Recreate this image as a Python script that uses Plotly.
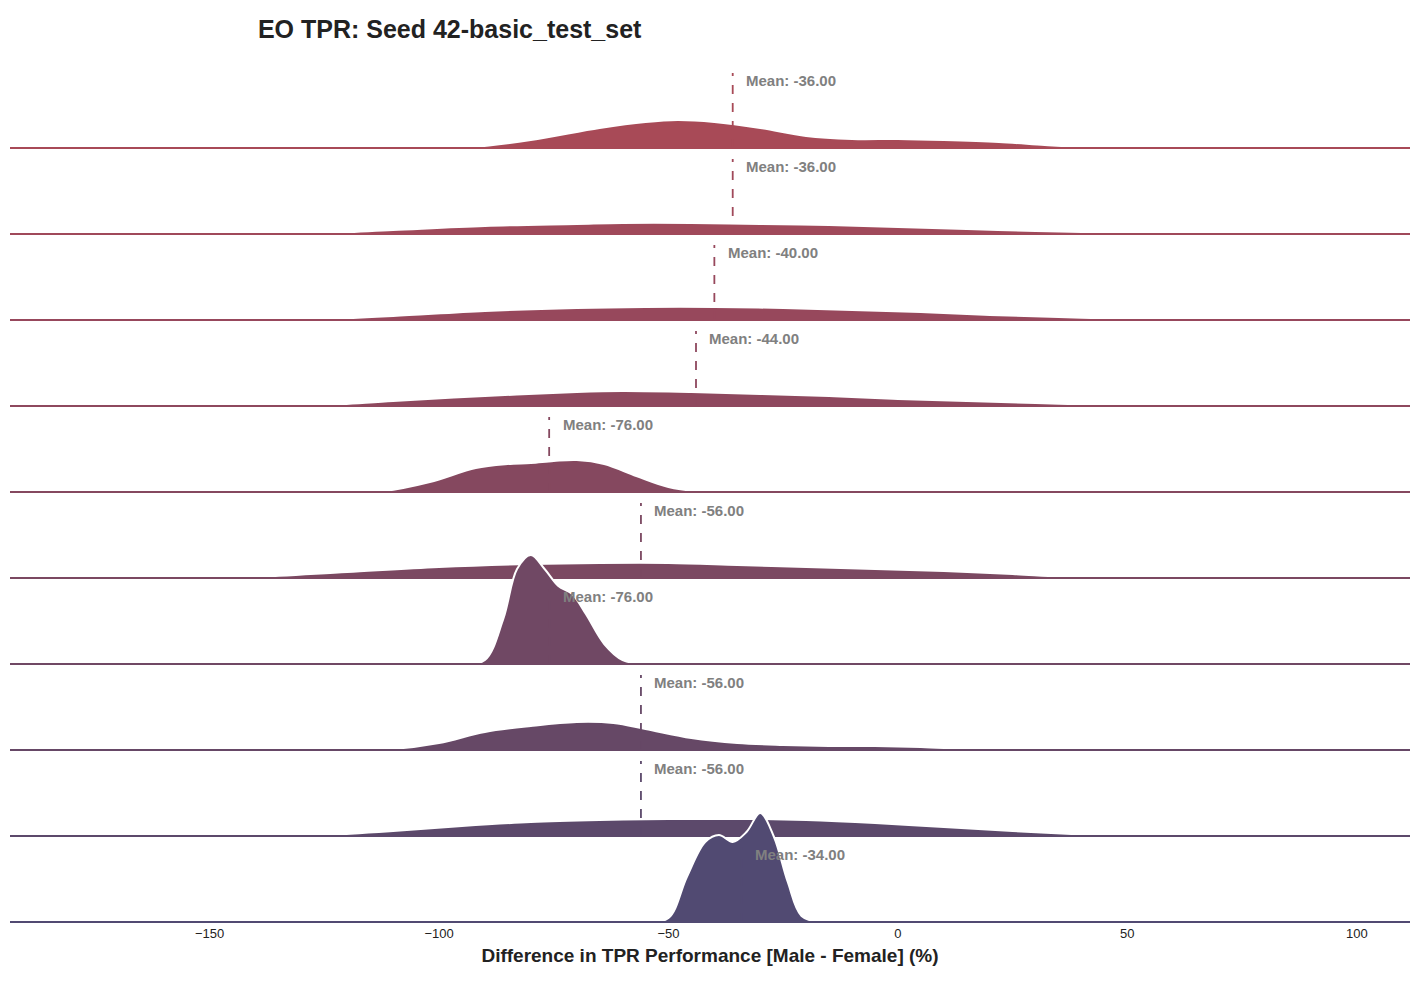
import plotly.graph_objects as go

# ridgeline rows, top to bottom
labels = ["pearrr_original", "abethe_original", "amicie_original", "ayoub_ghriss_original",
          "lbg_original", "mk_original", "nguigui_original", "Slasnista_original",
          "vzantedeschi_original", "wwwwmmmm_original"]
means = [-36, -36, -40, -44, -76, -56, -76, -56, -56, -34]
colors = ["#A84A57", "#A0495A", "#97485C", "#8E485E", "#85485F", "#7B4861", "#704864",
          "#664866", "#5C496B", "#514A72"]

# density heights (plot units) at x positions
xs = [
    [-100, -93, -80, -65, -55, -48, -40, -30, -20, -10, 0, 10, 22, 32, 40, 50],
    [-135, -125, -110, -90, -70, -60, -45, -30, -15, 0, 15, 30, 45, 55, 65],
    [-135, -125, -110, -90, -70, -55, -40, -25, -10, 5, 20, 35, 50, 60],
    [-135, -125, -110, -90, -70, -60, -45, -30, -15, 0, 15, 30, 45, 55],
    [-120, -112, -102, -92, -85, -80, -75, -70, -64, -57, -50, -44, -38],
    [-150, -140, -120, -100, -80, -65, -50, -35, -20, -5, 10, 25, 35, 45],
    [-95, -90, -86, -83, -80, -77, -74, -71, -68, -64, -60, -55],
    [-120, -110, -100, -90, -80, -70, -62, -55, -45, -35, -25, -15, -5, 5, 15, 25],
    [-135, -125, -110, -95, -80, -65, -50, -40, -30, -20, -5, 10, 25, 40, 50],
    [-55, -50, -46, -42, -39, -36, -33, -30, -27, -24, -21, -17],
]
hs = [
    [0, 1, 8, 20, 26, 28, 26, 20, 12, 9, 9, 8, 6, 3, 1, 0],
    [0, 1, 4, 8, 10, 11, 11, 10, 9, 7, 5, 3, 1.5, 0.5, 0],
    [0, 1, 4, 9, 12, 13, 13, 12, 10, 8, 5, 3, 1, 0],
    [0, 1, 5, 10, 14, 15, 14, 12, 10, 7, 5, 3, 1, 0],
    [0, 1, 10, 24, 28, 29, 31, 32, 28, 16, 5, 1, 0],
    [0, 1, 6, 11, 14, 15, 15, 13, 11, 9, 7, 4, 1.5, 0],
    [0, 4, 45, 95, 109, 95, 78, 70, 50, 20, 4, 0],
    [0, 1, 7, 18, 24, 28, 27, 21, 12, 7, 5, 4, 4, 3, 1, 0],
    [0, 1, 5, 10, 14, 16, 17, 17, 17, 16, 13, 9, 5, 1.5, 0],
    [0, 4, 45, 80, 87, 80, 90, 109, 85, 40, 6, 0],
]

step = 86
fig = go.Figure()
n = len(labels)
for i, lab in enumerate(labels):
    base = 2 + step * (n - 1 - i)
    c = colors[i]
    fig.add_trace(go.Scatter(x=xs[i], y=[base] * len(xs[i]), mode="lines",
                             line=dict(width=0), hoverinfo="skip"))
    fig.add_trace(go.Scatter(x=xs[i], y=[base + h for h in hs[i]], mode="lines",
                             line=dict(color="white", width=2, shape="spline", smoothing=1),
                             fill="tonexty", fillcolor=c, hoverinfo="skip"))
    fig.add_trace(go.Scatter(x=[means[i], means[i]], y=[base, base + 75], mode="lines",
                             line=dict(color=c, width=1.8, dash="dash"), hoverinfo="skip"))
    fig.add_trace(go.Scatter(x=[-193.5, 111.6], y=[base, base], mode="lines",
                             line=dict(color=c, width=2.2), hoverinfo="skip"))
    fig.add_annotation(x=-195, y=base + 12, text="<b>%s</b>" % lab, showarrow=False,
                       xanchor="left", yanchor="bottom", font=dict(size=15, color=c))
    fig.add_annotation(x=means[i] + 2.5, y=base + 68, text="<b>Mean: %.2f</b>" % means[i],
                       showarrow=False, xanchor="left", yanchor="middle",
                       font=dict(size=15, color="gray"))

fig.update_layout(
    width=1420, height=986, showlegend=False,
    plot_bgcolor="white", paper_bgcolor="white",
    margin=dict(l=2, r=18, t=32, b=70),
    font=dict(family="Liberation Sans, Arial", color="#222"),
    title=dict(text="<b>EO TPR: Seed 42-basic_test_set</b>", x=0.176, xanchor="left",
               y=0.978, yanchor="middle", font=dict(size=25, color="#222")),
    xaxis=dict(range=[-193.5, 111.6], tickvals=[-150, -100, -50, 0, 50, 100],
               showgrid=False, zeroline=False, showline=False, ticks="",
               tickfont=dict(size=13),
               title=dict(text="<b>Difference in TPR Performance [Male - Female] (%)</b>",
                          font=dict(size=19), standoff=8)),
    yaxis=dict(range=[0, 884], visible=False),
)
fig.write_html("out.html")
